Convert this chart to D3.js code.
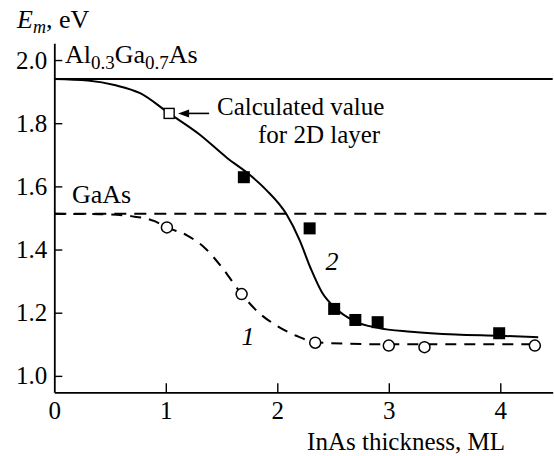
<!DOCTYPE html>
<html>
<head>
<meta charset="utf-8">
<script src="https://cdn.jsdelivr.net/npm/d3@7"></script>
<style>
  body { margin: 0; background: #fff; }
  text { font-family: 'Liberation Serif', Tinos, 'Times New Roman', serif; fill: #000; }
</style>
</head>
<body>
<svg id="chart" width="554" height="456"></svg>
<script>
// axis ticks
const xTicks = [0, 1, 2, 3, 4];
const yTicks = [1.0, 1.2, 1.4, 1.6, 1.8, 2.0];

// reference levels
const alGaAsLevel = 1.94;
const gaAsLevel = 1.513;

// measured points, sample 1 (open circles) and sample 2 (filled squares)
const sample1X = [1.01, 1.68, 2.34, 3.00, 3.32, 4.31];
const sample1Y = [1.47, 1.259, 1.105, 1.096, 1.091, 1.096];
const sample2X = [1.70, 2.29, 2.51, 2.70, 2.90, 3.99];
const sample2Y = [1.629, 1.467, 1.212, 1.177, 1.170, 1.135];

// calculated value for 2D layer
const calcX = [1.03];
const calcY = [1.831];

// guide curves
const curve1X = [0, 0.4, 0.7, 0.9, 1.01, 1.19, 1.35, 1.50, 1.68, 1.84, 1.99, 2.17, 2.34, 2.6, 3.0, 3.5, 4.0, 4.34];
const curve1Y = [1.513, 1.512, 1.505, 1.49, 1.47, 1.445, 1.405, 1.345, 1.259, 1.198, 1.160, 1.127, 1.107, 1.102, 1.100, 1.100, 1.100, 1.100];
const curve2X = [0, 0.3, 0.55, 0.77, 1.03, 1.3, 1.55, 1.755, 1.90, 2.08, 2.20, 2.30, 2.40, 2.51, 2.70, 2.90, 3.2, 3.6, 4.0, 4.34];
const curve2Y = [1.94, 1.935, 1.92, 1.895, 1.831, 1.765, 1.69, 1.636, 1.589, 1.513, 1.43, 1.34, 1.265, 1.218, 1.172, 1.152, 1.140, 1.131, 1.127, 1.122];

const serif = "'Liberation Serif', Tinos, 'Times New Roman', serif";

const svg = d3.select("#chart");

const x = d3.scaleLinear().domain([0, 4.47]).range([54.3, 552.7]);
const y = d3.scaleLinear().domain([0.948, 2.053]).range([392.3, 43.3]);

// reference lines
svg.append("line")
    .attr("x1", x(0)).attr("x2", x(4.47))
    .attr("y1", y(alGaAsLevel)).attr("y2", y(alGaAsLevel))
    .attr("stroke", "#000").attr("stroke-width", 2);

svg.append("line")
    .attr("x1", x(0)).attr("x2", x(4.47))
    .attr("y1", y(gaAsLevel)).attr("y2", y(gaAsLevel))
    .attr("stroke", "#000").attr("stroke-width", 2)
    .attr("stroke-dasharray", "12,8");

// axes, ticks pointing inward
const xAxis = d3.axisBottom(x)
    .tickValues(xTicks)
    .tickFormat(d3.format("d"))
    .tickSizeInner(-9).tickSizeOuter(0).tickPadding(9);

const yAxis = d3.axisLeft(y)
    .tickValues(yTicks)
    .tickFormat(d3.format(".1f"))
    .tickSizeInner(-8).tickSizeOuter(0).tickPadding(7);

const gx = svg.append("g").attr("transform", "translate(0," + y(0.948) + ")").call(xAxis);
const gy = svg.append("g").attr("transform", "translate(" + x(0) + ",0)").call(yAxis);

[gx, gy].forEach(function (g) {
    g.attr("font-family", null).attr("font-size", null);
    g.select(".domain").attr("stroke", "#000").attr("stroke-width", 1.8);
    g.selectAll(".tick line").attr("stroke", "#000").attr("stroke-width", 1.4);
    g.selectAll(".tick text")
        .style("font-family", serif)
        .style("font-size", "25px")
        .attr("fill", "#000");
});
gx.selectAll(".tick").filter(function (d) { return d === 0; }).select("line").remove();

// curves
const line = d3.line()
    .x(function (d) { return x(d[0]); })
    .y(function (d) { return y(d[1]); })
    .curve(d3.curveMonotoneX);

svg.append("path")
    .datum(d3.zip(curve1X, curve1Y))
    .attr("d", line)
    .attr("fill", "none").attr("stroke", "#000")
    .attr("stroke-width", 2).attr("stroke-dasharray", "11,8");

svg.append("path")
    .datum(d3.zip(curve2X, curve2Y))
    .attr("d", line)
    .attr("fill", "none").attr("stroke", "#000")
    .attr("stroke-width", 2);

// markers
svg.append("g").selectAll("circle")
    .data(d3.zip(sample1X, sample1Y))
  .enter().append("circle")
    .attr("cx", function (d) { return x(d[0]); })
    .attr("cy", function (d) { return y(d[1]); })
    .attr("r", 5.5)
    .attr("fill", "#fff").attr("stroke", "#000").attr("stroke-width", 1.5);

const sq = 12;
svg.append("g").selectAll("rect")
    .data(d3.zip(sample2X, sample2Y))
  .enter().append("rect")
    .attr("x", function (d) { return x(d[0]) - sq / 2; })
    .attr("y", function (d) { return y(d[1]) - sq / 2; })
    .attr("width", sq).attr("height", sq)
    .attr("fill", "#000");

const osq = 10;
svg.append("g").selectAll("rect")
    .data(d3.zip(calcX, calcY))
  .enter().append("rect")
    .attr("x", function (d) { return x(d[0]) - osq / 2; })
    .attr("y", function (d) { return y(d[1]) - osq / 2; })
    .attr("width", osq).attr("height", osq)
    .attr("fill", "#fff").attr("stroke", "#000").attr("stroke-width", 1.4);

// arrow to the calculated value
const ax0 = x(calcX[0]) + 9, ax1 = x(calcX[0]) + 40, ay = y(calcY[0]);
svg.append("line")
    .attr("x1", ax0 + 8).attr("x2", ax1)
    .attr("y1", ay).attr("y2", ay)
    .attr("stroke", "#000").attr("stroke-width", 1.6);
svg.append("path")
    .attr("d", "M" + ax0 + "," + ay + "L" + (ax0 + 11) + "," + (ay - 4) + "L" + (ax0 + 11) + "," + (ay + 4) + "Z")
    .attr("fill", "#000");

// texts
const fs = "26px";

svg.append("text")
    .attr("x", 217).attr("y", 115)
    .style("font-size", "25px")
    .text("Calculated value");
svg.append("text")
    .attr("x", 258).attr("y", 143)
    .style("font-size", "25px")
    .text("for 2D layer");

const al = svg.append("text").attr("x", 65).attr("y", 63).style("font-size", fs);
al.append("tspan").text("Al");
al.append("tspan").attr("dy", 6).style("font-size", "19px").text("0.3");
al.append("tspan").attr("dy", -6).text("Ga");
al.append("tspan").attr("dy", 6).style("font-size", "19px").text("0.7");
al.append("tspan").attr("dy", -6).text("As");

svg.append("text")
    .attr("x", 72).attr("y", 203)
    .style("font-size", fs)
    .text("GaAs");

const em = svg.append("text").attr("x", 17).attr("y", 28).style("font-size", fs);
em.append("tspan").style("font-style", "italic").text("E");
em.append("tspan").attr("dy", 5).style("font-style", "italic").style("font-size", "18px").text("m");
em.append("tspan").attr("dy", -5).text(", eV");

svg.append("text")
    .attr("x", 505).attr("y", 450)
    .attr("text-anchor", "end").style("font-size", "25px")
    .text("InAs thickness, ML");

svg.append("text")
    .attr("x", 332).attr("y", 270)
    .attr("text-anchor", "middle").style("font-size", fs).style("font-style", "italic")
    .text("2");
svg.append("text")
    .attr("x", 248).attr("y", 345)
    .attr("text-anchor", "middle").style("font-size", fs).style("font-style", "italic")
    .text("1");
</script>
</body>
</html>
